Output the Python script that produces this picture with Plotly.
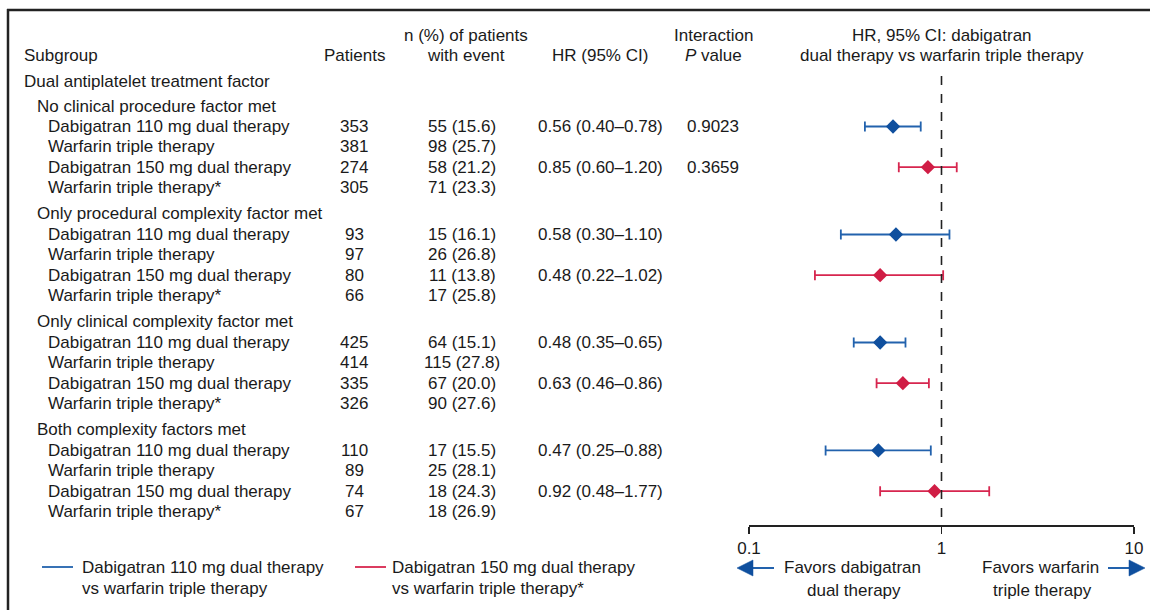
import plotly.graph_objects as go

# ---------------- data ----------------
group_titles = ["No clinical procedure factor met",
                "Only procedural complexity factor met",
                "Only clinical complexity factor met",
                "Both complexity factors met"]
arm_labels = ["Dabigatran 110 mg dual therapy", "Warfarin triple therapy",
              "Dabigatran 150 mg dual therapy", "Warfarin triple therapy*"]
patients = [[353, 381, 274, 305], [93, 97, 80, 66], [425, 414, 335, 326], [110, 89, 74, 67]]
events = [["55 (15.6)", "98 (25.7)", "58 (21.2)", "71 (23.3)"],
          ["15 (16.1)", "26 (26.8)", "11 (13.8)", "17 (25.8)"],
          ["64 (15.1)", "115 (27.8)", "67 (20.0)", "90 (27.6)"],
          ["17 (15.5)", "25 (28.1)", "18 (24.3)", "18 (26.9)"]]
hr110 = [0.56, 0.58, 0.48, 0.47]
lo110 = [0.40, 0.30, 0.35, 0.25]
hi110 = [0.78, 1.10, 0.65, 0.88]
hr150 = [0.85, 0.48, 0.63, 0.92]
lo150 = [0.60, 0.22, 0.46, 0.48]
hi150 = [1.20, 1.02, 0.86, 1.77]
p110 = ["0.9023", "", "", ""]
p150 = ["0.3659", "", "", ""]
tick_vals = [0.1, 1, 10]
tick_text = ["0.1", "1", "10"]

# ---------------- layout constants ----------------
W, H = 1150, 610
FONT = "Liberation Sans, Arial, Helvetica, sans-serif"
FS = 17
BLUE = "#2262ad"
BLUE_D = "#0f4f9e"
RED = "#d7264f"
RED_D = "#d01d45"
TXT = "#1a1a1a"

PADX = 2  # annotation inner padding compensation for left-anchored text
X_SUB, X_GRP, X_ARM = 24, 37, 48
X_PAT, X_EVT, X_HR, X_P = 354, 462, 600, 713
AX_L, AX_R = 749, 1134
AX_Y = 525

# row positions (pixels from top) computed cumulatively
Y_DUAL = 81
y_groups, y_rows = [], []
y = Y_DUAL + 25
for g in range(4):
    y_groups.append(y)
    rows = []
    yy = y + 20.5
    for r in range(4):
        rows.append(yy)
        yy += 20.33
    y_rows.append(rows)
    y = rows[-1] + 26.5

fig = go.Figure()
ann = []


def px(x):
    return x / W


def txt(x, y, s, anchor="left", size=FS, color=TXT):
    if anchor == "left":
        x = x - PADX
    ann.append(dict(x=px(x), y=y, xref="paper", yref="y", text=s, showarrow=False,
                    xanchor=anchor, yanchor="middle",
                    font=dict(family=FONT, size=size, color=color)))


# headers
txt(X_SUB, 55, "Subgroup")
txt(X_PAT, 55, "Patients", "center")
txt(X_EVT + 4, 35, "n (%) of patients", "center")
txt(X_EVT + 4, 55, "with event", "center")
txt(X_HR, 55, "HR (95% CI)", "center")
txt(X_P, 35, "Interaction", "center")
txt(X_P, 55, "<i>P</i> value", "center")
txt((AX_L + AX_R) / 2, 35, "HR, 95% CI: dabigatran", "center")
txt((AX_L + AX_R) / 2, 55, "dual therapy vs warfarin triple therapy", "center")
txt(X_SUB, Y_DUAL, "Dual antiplatelet treatment factor")

ys110, ys150 = [], []
for g in range(4):
    txt(X_GRP, y_groups[g], group_titles[g])
    for r in range(4):
        yr = y_rows[g][r]
        txt(X_ARM, yr, arm_labels[r])
        txt(X_PAT, yr, str(patients[g][r]), "center")
        txt(X_EVT, yr, events[g][r], "center")
    ys110.append(y_rows[g][0])
    ys150.append(y_rows[g][2])
    txt(X_HR, y_rows[g][0], f"{hr110[g]:.2f} ({lo110[g]:.2f}–{hi110[g]:.2f})", "center")
    txt(X_HR, y_rows[g][2], f"{hr150[g]:.2f} ({lo150[g]:.2f}–{hi150[g]:.2f})", "center")
    if p110[g]:
        txt(X_P, y_rows[g][0], p110[g], "center")
    if p150[g]:
        txt(X_P, y_rows[g][2], p150[g], "center")

# forest traces
for hr, lo, hi, ys, c, cd in [(hr110, lo110, hi110, ys110, BLUE, BLUE_D),
                              (hr150, lo150, hi150, ys150, RED, RED_D)]:
    fig.add_trace(go.Scatter(
        x=hr, y=ys, xaxis="x", yaxis="y", mode="markers",
        marker=dict(symbol="diamond", size=11, color=cd, line=dict(width=0)),
        error_x=dict(type="data", symmetric=False,
                     array=[h - m for h, m in zip(hi, hr)],
                     arrayminus=[m - l for m, l in zip(hr, lo)],
                     color=c, thickness=1.8, width=5),
        showlegend=False, hoverinfo="skip"))

shapes = []
# reference dashed line at HR = 1
shapes.append(dict(type="line", xref="x", yref="y", x0=1, x1=1, y0=76, y1=AX_Y,
                   line=dict(color="#222222", width=1.6, dash="dash")))


def hline(x0, x1, y0, color, width):
    shapes.append(dict(type="line", xref="paper", yref="y", x0=px(x0), x1=px(x1),
                       y0=y0, y1=y0, line=dict(color=color, width=width)))


# frame
hline(7, W, 10, "#222222", 2.5)
shapes.append(dict(type="line", xref="paper", yref="y", x0=px(8), x1=px(8), y0=9, y1=H,
                   line=dict(color="#222222", width=2.5)))
# legend
LEG_Y = 567
hline(42, 73, LEG_Y, BLUE, 1.8)
hline(355, 386, LEG_Y, RED, 1.8)
txt(82, LEG_Y, "Dabigatran 110 mg dual therapy")
txt(82, LEG_Y + 21, "vs warfarin triple therapy")
txt(392, LEG_Y, "Dabigatran 150 mg dual therapy")
txt(392, LEG_Y + 21, "vs warfarin triple therapy*")

# favors arrows
AY = 568
hline(746, 774, AY, BLUE, 2)
shapes.append(dict(type="path", xref="paper", yref="y",
                   path=f"M {px(737)} {AY} L {px(753)} {AY-8} L {px(753)} {AY+8} Z",
                   fillcolor=BLUE_D, line=dict(color=BLUE_D, width=0.5)))
hline(1108, 1136, AY, BLUE, 2)
shapes.append(dict(type="path", xref="paper", yref="y",
                   path=f"M {px(1145)} {AY} L {px(1129)} {AY-8} L {px(1129)} {AY+8} Z",
                   fillcolor=BLUE_D, line=dict(color=BLUE_D, width=0.5)))
txt(852, 567, "Favors dabigatran", "center")
txt(854, 590, "dual therapy", "center")
txt(1040, 567, "Favors warfarin", "center")
txt(1042, 590, "triple therapy", "center")

fig.update_layout(
    width=W, height=H, margin=dict(l=0, r=0, t=0, b=0, pad=0, autoexpand=False),
    paper_bgcolor="white", plot_bgcolor="rgba(0,0,0,0)",
    showlegend=False,
    xaxis=dict(type="log", range=[-1, 1], domain=[AX_L / W, AX_R / W],
               anchor="free", position=1 - AX_Y / H, side="bottom",
               showline=True, linecolor="#222222", linewidth=1.6,
               ticks="outside", ticklen=7, tickwidth=1.6, tickcolor="#222222",
               tickvals=tick_vals, ticktext=tick_text, showgrid=False, zeroline=False,
               automargin=False,
               tickfont=dict(family=FONT, size=FS, color=TXT)),
    yaxis=dict(range=[H, 0], domain=[0, 1], visible=False, showgrid=False,
               zeroline=False, automargin=False),
    shapes=shapes, annotations=ann,
)

post = "document.body.style.margin='0';document.body.style.overflow='hidden';"

fig.write_html("out.html", post_script=post,
               config={"displayModeBar": False, "staticPlot": True})
